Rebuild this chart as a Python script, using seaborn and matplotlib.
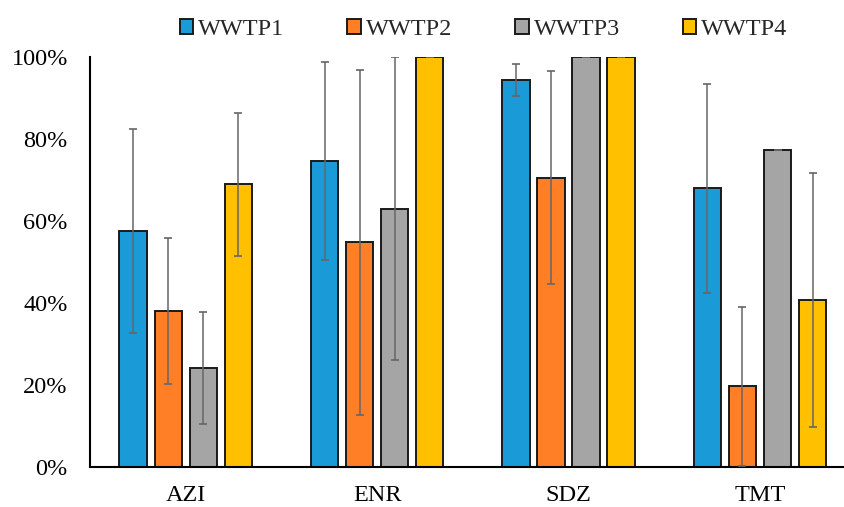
import numpy as np
import pandas as pd
import matplotlib
matplotlib.use("Agg")
import matplotlib.pyplot as plt
import seaborn as sns
from matplotlib.ticker import PercentFormatter

compounds = ["AZI", "ENR", "SDZ", "TMT"]
plants = ["WWTP1", "WWTP2", "WWTP3", "WWTP4"]
colors = ["#1A9BD7", "#FF7F27", "#A5A5A5", "#FFC000"]

# removal (%) per plant, in compound order
wwtp1 = [57.6, 74.7, 94.5, 68.0]
wwtp2 = [38.0, 54.8, 70.6, 19.6]
wwtp3 = [24.1, 63.0, 100.0, 77.3]
wwtp4 = [69.0, 100.0, 100.0, 40.8]

# standard deviations (%)
sd1 = [25.0, 24.1, 4.0, 25.5]
sd2 = [17.9, 42.1, 26.0, 19.5]
sd3 = [13.6, 37.0, 0.0, 0.0]
sd4 = [17.5, 0.0, 0.0, 31.0]

vals = [wwtp1, wwtp2, wwtp3, wwtp4]
sds = [sd1, sd2, sd3, sd4]

rows = []
for p, v, s in zip(plants, vals, sds):
    for c, vv, ss in zip(compounds, v, s):
        rows.append({"compound": c, "plant": p, "value": vv / 100, "sd": ss / 100})
df = pd.DataFrame(rows)

sns.set_style("white")
plt.rcParams["font.family"] = ["Liberation Serif", "DejaVu Serif"]

fig = plt.figure(figsize=(8.44, 5.07), dpi=100)
ax = fig.add_axes([0.1066, 0.0795, 0.9073, 0.8071])

sns.barplot(data=df, x="compound", y="value", hue="plant", order=compounds,
            hue_order=plants, palette=colors, width=0.732, gap=0.22,
            errorbar=None, edgecolor="#1a1a1a", linewidth=1.4, ax=ax,
            legend=True, saturation=1)

# error bars placed on the bars seaborn drew
for cont, p in zip(ax.containers, plants):
    sub = df[df["plant"] == p].set_index("compound").loc[compounds]
    xs = [b.get_x() + b.get_width() / 2 for b in cont]
    ax.errorbar(xs, sub["value"], yerr=sub["sd"], fmt="none",
                ecolor="#666666", elinewidth=1.1, capsize=2.6, capthick=1.2,
                zorder=3)

ax.set_ylim(0, 1)
ax.set_yticks(np.arange(0, 1.01, 0.2))
ax.yaxis.set_major_formatter(PercentFormatter(1.0, decimals=0))
ax.set_xlim(-0.5, 3.5)
ax.set_xlabel("")
ax.set_ylabel("")
ax.tick_params(axis="y", length=0, pad=16, labelsize=17.5, colors="black")
ax.tick_params(axis="x", length=0, pad=13.5, labelsize=17.5, colors="black")
for side in ["top", "right"]:
    ax.spines[side].set_visible(False)
for side in ["left", "bottom"]:
    ax.spines[side].set_color("black")
    ax.spines[side].set_linewidth(1.5)

handles, labels = ax.get_legend_handles_labels()
ax.get_legend().remove()
fig.legend(handles, labels, loc="center", bbox_to_anchor=(0.573, 0.942),
           ncol=4, frameon=False, fontsize=17.5, handlelength=0.55,
           handleheight=0.55, handletextpad=0.2, columnspacing=2.6)

fig.savefig("out.png", dpi=100)
